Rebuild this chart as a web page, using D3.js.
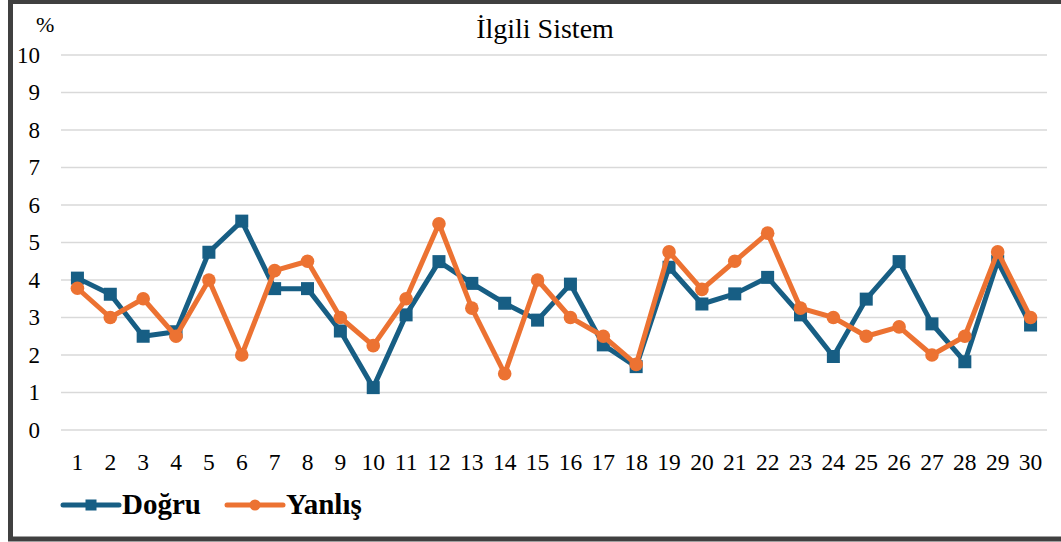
<!DOCTYPE html>
<html><head><meta charset="utf-8">
<script src="https://cdn.jsdelivr.net/npm/d3@7"></script>
<style>
html,body{margin:0;padding:0;background:#fff;}
</style></head>
<body><svg id="c" width="1061" height="542"></svg>
<script>
const categories = d3.range(1, 31).map(String);
const dogru  = [4.05,3.62,2.5,2.62,4.74,5.57,3.77,3.77,2.64,1.13,3.07,4.49,3.91,3.38,2.93,3.89,2.27,1.69,4.34,3.36,3.63,4.07,3.07,1.96,3.49,4.49,2.83,1.82,4.5,2.8];
const yanlis = [3.78,3.0,3.5,2.5,4.0,2.0,4.25,4.5,3.0,2.25,3.5,5.5,3.25,1.5,4.0,3.0,2.5,1.75,4.75,3.75,4.5,5.25,3.25,3.0,2.5,2.75,2.0,2.5,4.75,3.0];
const yTicks = [0,1,2,3,4,5,6,7,8,9,10];
const title = "İlgili Sistem";
const unit = "%";
const seriesNames = ["Doğru", "Yanlış"];
const colors = ["#175E84", "#EC7232"];
const FONT = '"Liberation Serif","Times New Roman",serif';

const svg = d3.select("#c");
// frame
svg.append("rect").attr("x", 10.5).attr("y", 1.5).attr("width", 1060).attr("height", 537.5)
  .attr("fill", "none").attr("stroke", "#404040").attr("stroke-width", 5);

const x = d3.scaleBand().domain(categories).range([61, 1047]);
const y = d3.scaleLinear().domain([0, 10]).range([430, 55]);

// gridlines
svg.append("g").selectAll("line").data(yTicks).join("line")
  .attr("x1", 61).attr("x2", 1047)
  .attr("y1", d => y(d)).attr("y2", d => y(d))
  .attr("stroke", "#d9d9d9").attr("stroke-width", 1.5);

// y axis labels
const yAxis = svg.append("g").attr("transform", "translate(40,0)")
  .call(d3.axisLeft(y).tickValues(yTicks).tickSize(0).tickPadding(0));
yAxis.select(".domain").remove();
yAxis.selectAll("text").style("font-size", "23px").attr("dy", "0.32em")
  .style("font-family", FONT).attr("fill", "#000");

// x axis labels
const xAxis = svg.append("g").attr("transform", "translate(0,453)")
  .call(d3.axisBottom(x).tickSize(0).tickPadding(0));
xAxis.select(".domain").remove();
xAxis.selectAll("text").style("font-size", "23.5px").attr("dy", "0.71em")
  .style("font-family", FONT).attr("fill", "#000");

// title & unit
svg.append("text").attr("x", 545).attr("y", 38).attr("text-anchor", "middle")
  .style("font-family", FONT).style("font-size", "28px").attr("fill", "#000").text(title);
svg.append("text").attr("x", 36).attr("y", 32)
  .style("font-family", FONT).style("font-size", "22px").attr("fill", "#000").text(unit);

const cx = d => x(d) + x.bandwidth() / 2;
const line = d3.line().x(d => cx(d[0])).y(d => y(d[1]));

// Doğru
const d1 = categories.map((c, i) => [c, dogru[i]]);
svg.append("path").datum(d1).attr("d", line).attr("fill", "none")
  .attr("stroke", colors[0]).attr("stroke-width", 5).attr("stroke-linejoin", "round");
svg.append("g").selectAll("rect").data(d1).join("rect")
  .attr("x", d => cx(d[0]) - 6.5).attr("y", d => y(d[1]) - 6.5)
  .attr("width", 13).attr("height", 13).attr("fill", colors[0]);

// Yanlış
const d2 = categories.map((c, i) => [c, yanlis[i]]);
svg.append("path").datum(d2).attr("d", line).attr("fill", "none")
  .attr("stroke", colors[1]).attr("stroke-width", 5).attr("stroke-linejoin", "round");
svg.append("g").selectAll("circle").data(d2).join("circle")
  .attr("cx", d => cx(d[0])).attr("cy", d => y(d[1])).attr("r", 6.8).attr("fill", colors[1]);

// legend
const leg = [
  {name: seriesNames[0], color: colors[0], x0: 63, x1: 119, text: 122, shape: "square"},
  {name: seriesNames[1], color: colors[1], x0: 227, x1: 283, text: 286, shape: "circle"}
];
const ly = 505;
leg.forEach(l => {
  svg.append("line").attr("x1", l.x0).attr("x2", l.x1).attr("y1", ly).attr("y2", ly)
    .attr("stroke", l.color).attr("stroke-width", 5).attr("stroke-linecap", "round");
  const mx = (l.x0 + l.x1) / 2;
  if (l.shape === "square") {
    svg.append("rect").attr("x", mx - 5.5).attr("y", ly - 5.5).attr("width", 11).attr("height", 11).attr("fill", l.color);
  } else {
    svg.append("circle").attr("cx", mx).attr("cy", ly).attr("r", 5.5).attr("fill", l.color);
  }
  svg.append("text").attr("x", l.text).attr("y", 514)
    .style("font-family", FONT).style("font-size", "29px")
    .style("font-weight", "bold").attr("fill", "#000").text(l.name);
});
</script></body></html>
